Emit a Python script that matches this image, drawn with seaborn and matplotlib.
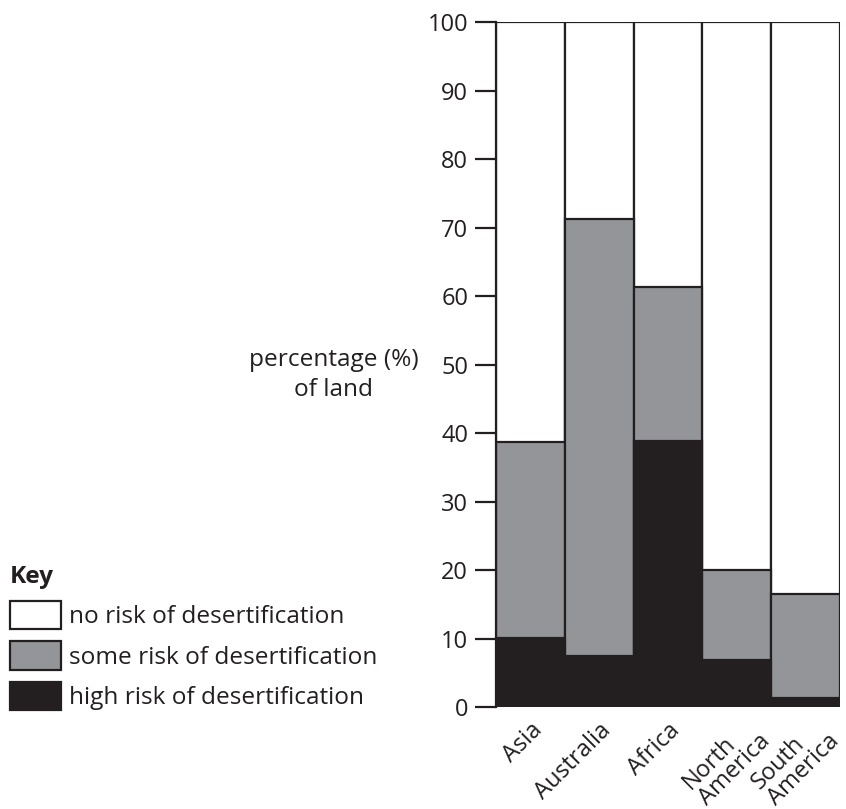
import matplotlib
matplotlib.use('Agg')
import matplotlib.pyplot as plt
import matplotlib.transforms as mtransforms
import seaborn as sns
import pandas as pd
from matplotlib.patches import Patch

regions = ['Asia', 'Australia', 'Africa', 'North\nAmerica', 'South\nAmerica']
high_risk = [10.1, 7.5, 38.8, 6.9, 1.4]
some_risk = [28.6, 63.8, 22.6, 13.2, 15.2]
no_risk = [61.3, 28.7, 38.6, 79.9, 83.4]

legend_labels = ['no risk of desertification', 'some risk of desertification',
                 'high risk of desertification']

sns.set_style('ticks')
plt.rcParams['font.family'] = ['Open Sans', 'DejaVu Sans']

ink = '#231f20'
grey = '#939598'
fs = 17
fs_text = 17.6

df = pd.DataFrame({'region': regions, 'high': high_risk, 'some': some_risk, 'none': no_risk})
df['top_some'] = df['high'] + df['some']
df['top_none'] = df['top_some'] + df['none']

fig = plt.figure(figsize=(8.46, 8.09), dpi=100)
ax = fig.add_axes([0.5863, 0.1257, 0.4066, 0.8471])

# stacked bars drawn back to front
for col, c in [('top_none', 'white'), ('top_some', grey), ('high', ink)]:
    sns.barplot(data=df, x='region', y=col, color=c, width=1, saturation=1,
                edgecolor=ink, linewidth=1.6, ax=ax)

ax.set_xlim(-0.5, 4.5)
ax.set_ylim(0, 100)
ax.set_yticks(range(0, 101, 10))
ax.set_xlabel('')
ax.set_ylabel('percentage (%)\nof land', rotation=0, fontsize=fs_text, color=ink,
              ha='center', va='center', linespacing=1.3)
ax.yaxis.set_label_coords(-0.471, 0.485)

for s in ['top', 'right', 'bottom']:
    ax.spines[s].set_visible(False)
ax.spines['left'].set_color(ink)
ax.spines['left'].set_linewidth(1.6)
ax.tick_params(axis='y', length=15, width=1.6, color=ink, labelsize=fs,
               labelcolor=ink, pad=5)
ax.tick_params(axis='x', length=0, labelsize=fs, labelcolor=ink, pad=8)

# two-line labels: nudge so the first line sits near the bar centre
renderer = fig.canvas.get_renderer()
for lbl in ax.get_xticklabels():
    lbl.set_rotation(45)
    lbl.set_ha('right')
    lbl.set_rotation_mode('anchor')
    lbl.set_multialignment('left')
    lbl.set_linespacing(0.95)
    lines = lbl.get_text().split('\n')
    if len(lines) > 1:
        widths = []
        for line in lines:
            tmp = ax.text(0, 0, line, fontsize=fs)
            widths.append(tmp.get_window_extent(renderer).width)
            tmp.remove()
        d = ((max(widths) - widths[0]) * 0.7071 - 13) / fig.dpi
        lbl.set_transform(lbl.get_transform() +
                          mtransforms.ScaledTranslation(d, d, fig.dpi_scale_trans))

handles = [Patch(facecolor=c, edgecolor=ink, linewidth=1.6) for c in ['white', grey, ink]]
leg = fig.legend(handles, legend_labels, loc='upper left', bbox_to_anchor=(0.012, 0.302),
                 frameon=False, fontsize=fs_text, title='Key', alignment='left',
                 title_fontproperties={'weight': 'bold', 'size': fs_text},
                 handlelength=2.1, handleheight=1.4, handletextpad=0.3,
                 labelspacing=0.5, borderpad=0, borderaxespad=0)
for t in leg.get_texts():
    t.set_color(ink)
leg.get_title().set_color(ink)

fig.savefig('out.png', dpi=100)
